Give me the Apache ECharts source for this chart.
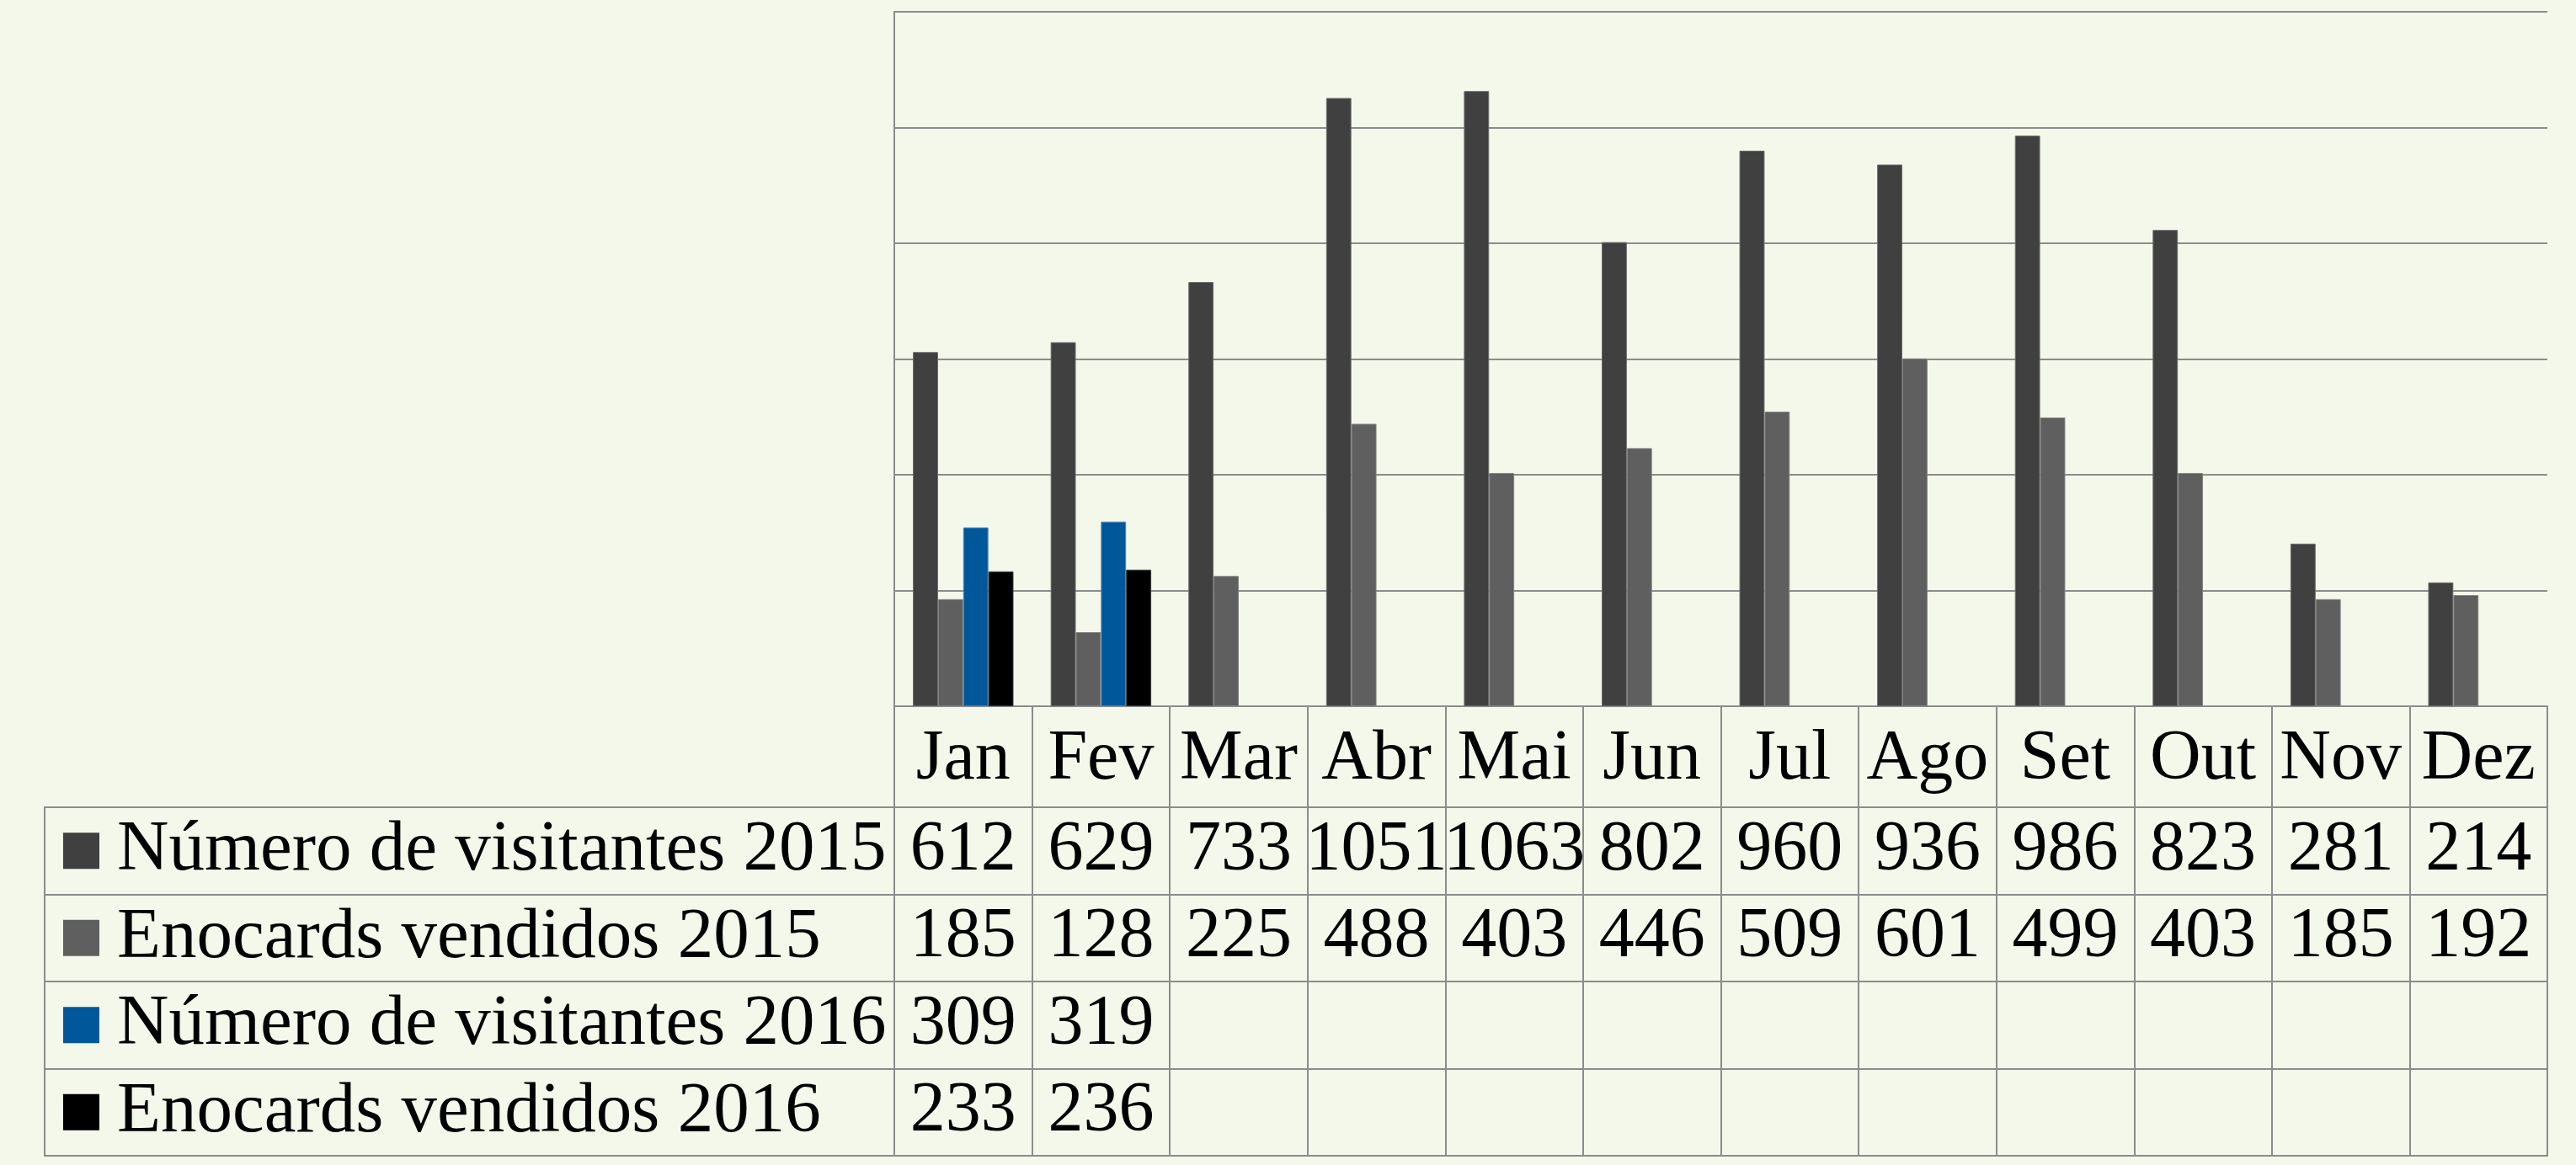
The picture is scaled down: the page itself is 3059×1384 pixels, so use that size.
<!DOCTYPE html>
<html>
<head>
<meta charset="utf-8">
<script src="https://cdn.jsdelivr.net/npm/echarts@6/dist/echarts.min.js"></script>
<style>
  html, body { margin: 0; padding: 0; background: #f4f8ea; }
  #chart { width: 3059px; height: 1384px; }
</style>
</head>
<body>
<div id="chart"></div>
<script>
var meses = ['Jan', 'Fev', 'Mar', 'Abr', 'Mai', 'Jun', 'Jul', 'Ago', 'Set', 'Out', 'Nov', 'Dez'];
var nomes = ['Número de visitantes 2015', 'Enocards vendidos 2015', 'Número de visitantes 2016', 'Enocards vendidos 2016'];
var cores = ['#404040', '#5f5f5f', '#00579a', '#000000'];
var bordas = ['#6a6a6a', '#808080', '#4a86b8', '#3a3a3a'];

var visitantes2015 = [612, 629, 733, 1051, 1063, 802, 960, 936, 986, 823, 281, 214];
var enocards2015 = [185, 128, 225, 488, 403, 446, 509, 601, 499, 403, 185, 192];
var visitantes2016 = [309, 319, null, null, null, null, null, null, null, null, null, null];
var enocards2016 = [233, 236, null, null, null, null, null, null, null, null, null, null];

var series = [visitantes2015, enocards2015, visitantes2016, enocards2016];
var fonte = 'Liberation Serif';
var cinza = '#8c8c8c';

var chartDom = document.getElementById('chart');
var myChart = echarts.init(chartDom);

// celulas da tabela
var celulas = [];
for (var s = 0; s < series.length; s++) {
    for (var m = 0; m < meses.length; m++) {
        if (series[s][m] != null) celulas.push([m, s, series[s][m]]);
    }
}

var rich = {};
for (var i = 0; i < cores.length; i++) {
    rich['q' + i] = { backgroundColor: cores[i], width: 43, height: 43 };
}
rich.t = { fontFamily: fonte, fontSize: 85, color: '#000', padding: [0, 0, 0, 21] };

var barras = series.map(function (d, i) {
    return {
        name: nomes[i],
        type: 'bar',
        xAxisIndex: 0,
        yAxisIndex: 0,
        data: d,
        barGap: 0,
        barCategoryGap: '27%',
        itemStyle: { color: cores[i], borderColor: bordas[i], borderWidth: 1 },
        animation: false
    };
});

var option = {
    backgroundColor: '#f4f8ea',
    animation: false,
    grid: [
        { left: 1062, right: 34, top: 14, height: 825 },
        { left: 1062, right: 34, top: 959, height: 414, show: true, borderColor: cinza, borderWidth: 2 },
        { left: 53, width: 1009, top: 959, height: 414, show: true, borderColor: cinza, borderWidth: 2 }
    ],
    xAxis: [
        {
            gridIndex: 0,
            type: 'category',
            data: meses,
            axisLine: { show: true, lineStyle: { color: cinza, width: 2 } },
            axisTick: { show: true, interval: 0, length: 119, lineStyle: { color: cinza, width: 2 } },
            axisLabel: {
                interval: 0,
                fontFamily: fonte, fontSize: 84, color: '#000',
                margin: 64, verticalAlign: 'middle', lineHeight: 84
            },
            splitLine: { show: false }
        },
        {
            gridIndex: 1,
            type: 'category',
            data: meses,
            axisLine: { show: false },
            axisTick: { show: false },
            axisLabel: { show: false },
            splitLine: { show: true, interval: 0, lineStyle: { color: cinza, width: 2 } }
        },
        {
            gridIndex: 2,
            type: 'value',
            show: false
        }
    ],
    yAxis: [
        {
            gridIndex: 0,
            type: 'value',
            min: 0,
            max: 1200,
            interval: 200,
            axisLine: { show: true, lineStyle: { color: cinza, width: 2 } },
            axisTick: { show: false },
            axisLabel: { show: false },
            splitLine: { show: true, lineStyle: { color: cinza, width: 2 } }
        },
        {
            gridIndex: 1,
            type: 'category',
            data: nomes,
            inverse: true,
            axisLine: { show: false },
            axisTick: { show: false },
            axisLabel: { show: false },
            splitLine: { show: true, interval: 0, lineStyle: { color: cinza, width: 2 } }
        },
        {
            gridIndex: 2,
            type: 'category',
            data: nomes,
            inverse: true,
            axisLine: { show: false },
            axisTick: { show: false },
            axisLabel: {
                interval: 0,
                inside: true,
                margin: 22,
                align: 'left',
                formatter: function (v, idx) {
                    return '{q' + idx + '|}{t|' + v + '}';
                },
                rich: rich
            },
            splitLine: { show: true, interval: 0, lineStyle: { color: cinza, width: 2 } }
        }
    ],
    series: barras.concat([
        {
            type: 'scatter',
            xAxisIndex: 1,
            yAxisIndex: 1,
            data: celulas,
            symbolSize: 1,
            itemStyle: { color: 'transparent', opacity: 1 },
            label: {
                show: true,
                position: 'inside',
                fontFamily: fonte,
                fontSize: 84,
                color: '#000',
                opacity: 1,
                textBorderWidth: 0,
                formatter: function (p) { return p.value[2]; }
            },
            silent: true
        }
    ])
};

option && myChart.setOption(option);
</script>
</body>
</html>
